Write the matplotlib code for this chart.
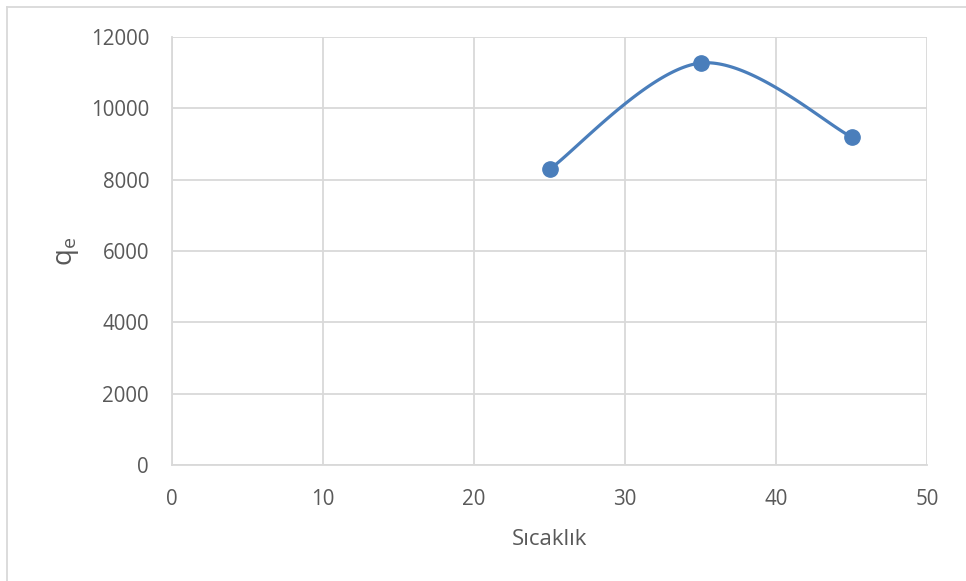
import numpy as np
import matplotlib.pyplot as plt
from matplotlib.lines import Line2D

# Sıcaklık vs q_e
temps = [25, 35, 45]
qe = [8290, 11270, 9200]

x_ticks = [0, 10, 20, 30, 40, 50]
y_ticks = [0, 2000, 4000, 6000, 8000, 10000, 12000]

plt.rcParams['font.family'] = ['Open Sans', 'DejaVu Sans']
plt.rcParams['mathtext.fontset'] = 'custom'
plt.rcParams['mathtext.rm'] = 'Open Sans'

LINE_BLUE = '#4a7ebb'
GRID = '#d9d9d9'
TEXT = '#595959'


def smooth_curve(xs, ys, n=60):
    """Bezier smoothing of a polyline, the way spreadsheet 'smoothed lines' do it."""
    pts = np.column_stack([xs, ys]).astype(float)
    out = []
    for i in range(len(pts) - 1):
        p0 = pts[i - 1] if i > 0 else pts[i]
        p1 = pts[i]
        p2 = pts[i + 1]
        p3 = pts[i + 2] if i + 2 < len(pts) else pts[i + 1]
        c1 = p1 + (p2 - p0) / 6
        c2 = p2 - (p3 - p1) / 6
        t = np.linspace(0, 1, n)[:, None]
        seg = ((1 - t) ** 3 * p1 + 3 * (1 - t) ** 2 * t * c1
               + 3 * (1 - t) * t ** 2 * c2 + t ** 3 * p2)
        out.append(seg if i == 0 else seg[1:])
    out = np.vstack(out)
    return out[:, 0], out[:, 1]


fig = plt.figure(figsize=(9.66, 5.81), dpi=100)
ax = fig.add_axes([172 / 966, 1 - 465 / 581, (927 - 172) / 966, (465 - 37) / 581])

sx, sy = smooth_curve(temps, qe)
ax.plot(sx, sy, color=LINE_BLUE, lw=2.3, solid_capstyle='round', zorder=3)
ax.plot(temps, qe, 'o', color=LINE_BLUE, ms=11, zorder=4)

ax.set_xlim(0, 50)
ax.set_ylim(0, 12000)
ax.set_xticks(x_ticks)
ax.set_yticks(y_ticks)
ax.grid(True, color=GRID, lw=1.3)
ax.set_axisbelow(True)
for s in ax.spines.values():
    s.set_visible(False)
ax.spines['left'].set_visible(True)
ax.spines['bottom'].set_visible(True)
ax.spines['left'].set_color(GRID)
ax.spines['bottom'].set_color(GRID)
ax.spines['left'].set_linewidth(1.3)
ax.spines['bottom'].set_linewidth(1.3)
ax.tick_params(length=0, labelsize=14.8, colors=TEXT)
ax.tick_params(axis='y', pad=16.5)
ax.tick_params(axis='x', pad=17)

ax.set_xlabel('Sıcaklık', fontsize=16, color=TEXT, labelpad=14)
ax.set_ylabel(r'q$_\mathrm{e}$', fontsize=20, color=TEXT, labelpad=7)

# chart frame (left and top edges)
fig.add_artist(Line2D([7 / 966, 7 / 966], [0, 1 - 7 / 581], color=GRID, lw=1.3,
                      transform=fig.transFigure))
fig.add_artist(Line2D([7 / 966, 1], [1 - 7 / 581, 1 - 7 / 581], color=GRID, lw=1.3,
                      transform=fig.transFigure))

fig.savefig('out.png', dpi=100)
